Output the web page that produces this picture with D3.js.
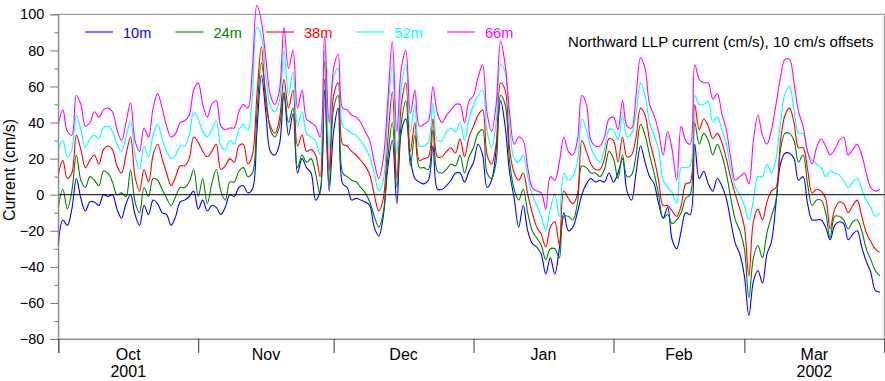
<!DOCTYPE html>
<html><head><meta charset="utf-8">
<script src="https://cdn.jsdelivr.net/npm/d3@7"></script>
<style>
body{margin:0;background:#fff}
svg{display:block;font-family:"Liberation Sans",Arial,Helvetica,sans-serif}
</style>
</head><body>
<svg id="chart" width="885" height="381"></svg>
<script>
// ---------- data ----------
const seriesNames = ["10m","24m","38m","52m","66m"];
const monthLabels = ["Oct","Nov","Dec","Jan","Feb","Mar"];
const yearLabels  = ["2001","","","","","2002"];
const monthStartDays = [0,31,61,92,123,152,183];   // day of record (from 1 Oct 2001)
const yTickValues = [-80,-60,-40,-20,0,20,40,60,80,100];
const yMinorTickValues = [-70,-50,-30,-10,10,30,50,70,90];
const annotation = "Northward LLP current (cm/s), 10 cm/s offsets";
const yTitle = "Current (cm/s)";

// daily values, one per day of record
const s10m = [
-28,-14,-17,-8,9,-2,-9,-4,-4,-6,0,-1,0,-8,-13,-5,0,-11,-17,-6,-11,-3,-5,-10,-11,-17,-12,-4,-3,-1,2,-8,-3,-9,-6,-7,-11,-7,0,-1,4,5,1,3,35,66,
45,24,22,28,56,33,45,12,20,15,12,-3,2,58,2,35,48,6,4,-3,-2,-3,-4,-6,-18,-23,-12,15,30,-5,35,42,20,9,7,6,8,27,3,3,5,8,12,12,7,13,
18,28,22,4,8,25,52,38,12,-2,-18,-6,-20,-27,-29,-33,-44,-35,-44,-30,-10,-20,-18,-10,0,6,9,7,8,7,12,7,12,20,2,-3,12,27,18,10,6,-5,-13,-7,-25,
-30,-20,-10,-11,28,9,13,6,2,9,5,-2,-15,-27,-33,-45,-67,-48,-42,-49,-33,-26,-5,17,23,23,20,8,10,-5,-14,-14,-14,-18,-25,-17,-15,-16,-25,-22,-20,-29,-37,-43,-53,-54];
const s24m = [
-7,3,-8,2,22,8,4,10,8,5,13,12,7,0,1,-1,14,-4,-10,4,-1,9,8,3,-2,-6,-1,4,4,7,14,-1,9,-5,6,14,2,-3,7,7,13,15,10,12,45,73,
55,36,32,38,57,40,48,15,22,18,20,12,0,64,5,48,55,12,10,8,7,4,1,-4,-12,-18,-10,20,40,4,40,52,16,33,15,15,14,36,13,12,14,17,16,22,12,21,
26,34,36,12,9,18,55,50,18,3,-3,3,-10,-20,-24,-28,-36,-30,-30,-35,-12,-12,-14,-5,16,15,12,12,10,14,24,20,9,22,10,11,22,39,33,22,12,0,-13,-11,-16,
-14,-10,-2,0,40,28,34,30,22,28,22,12,-2,-14,-20,-30,-57,-35,-28,-35,-21,-12,-3,25,34,34,30,18,22,6,-6,-3,-3,-10,-24,-12,-12,-14,-19,-15,-14,-20,-30,-36,-42,-45];
const s38m = [
11,19,9,12,33,25,15,19,22,17,25,27,25,16,12,22,32,10,2,14,7,22,28,20,12,5,10,16,16,20,32,29,24,21,24,28,14,16,20,18,27,28,17,22,55,82,
50,38,34,42,64,48,58,27,33,24,25,22,10,74,13,55,62,28,27,24,22,19,16,11,0,-9,-2,30,57,9,50,62,24,40,19,20,21,42,21,21,24,26,23,31,21,32,
38,44,47,22,17,28,62,58,25,12,8,12,0,-10,-18,-22,-29,-18,-15,-28,2,-2,-5,0,30,24,17,14,14,20,31,30,18,32,21,22,32,48,44,30,20,8,-6,-6,-9,
-12,-6,6,7,50,36,42,38,31,34,29,20,9,0,-8,-18,-45,-15,-8,-14,-4,2,4,30,44,48,40,26,26,14,1,3,2,-2,-19,-8,-4,-5,-10,-6,-3,-12,-21,-26,-30,-32];
const s52m = [
25,30,21,25,44,36,26,31,33,31,37,38,35,28,24,32,41,22,14,27,21,33,39,31,24,20,22,27,27,33,46,42,35,32,36,41,27,25,30,28,36,39,36,55,93,88,
65,49,46,52,80,55,68,38,46,34,32,30,22,80,25,65,70,38,36,34,33,30,26,21,12,2,8,45,72,22,60,72,35,50,27,27,29,51,30,30,35,37,35,40,30,42,
50,55,58,35,26,40,72,68,38,20,18,22,10,0,-6,-12,-20,-8,0,-12,12,8,10,18,42,36,26,21,18,25,36,36,30,44,32,34,45,62,55,40,33,25,8,4,1,
-5,15,15,16,55,50,50,52,40,43,36,28,14,4,0,-6,-14,-3,10,10,17,12,20,40,56,60,47,34,34,24,19,17,15,10,13,12,11,8,4,7,9,3,-3,-7,-12,-10];
const s66m = [
39,47,35,33,55,50,38,40,46,43,47,48,46,36,30,40,51,30,24,37,32,48,56,48,38,32,34,40,41,44,58,62,50,43,50,52,38,36,37,37,46,50,48,70,105,96,
75,55,50,58,93,70,80,48,58,42,40,38,32,88,40,70,78,48,47,44,43,40,35,30,18,9,20,52,85,35,70,80,45,58,38,39,41,60,45,40,44,47,50,50,40,52,
55,65,72,45,35,50,85,72,45,28,32,30,15,4,2,1,-8,10,8,18,32,24,22,30,55,50,30,27,27,32,42,43,36,52,38,37,55,76,70,50,44,35,22,35,25,
8,38,30,28,72,64,62,62,53,56,45,36,20,8,10,12,6,30,44,33,28,36,50,65,75,75,62,46,38,24,17,26,31,27,22,25,30,32,22,25,28,22,12,4,2,3];
const seriesValues = [s10m, s24m, s38m, s52m, s66m];

// ---------- styles / layout ----------
const colors = ["#0000ff","#008000","#ff0000","#00ffff","#ff00ff"];
const plot = {left: 58.3, right: 884.3, top: 14.3, bottom: 339};

const svg = d3.select("#chart");
const x = d3.scaleLinear().domain([monthStartDays[0], monthStartDays[monthStartDays.length-1]]).range([plot.left, plot.right]);
const y = d3.scaleLinear().domain([-80, 100]).range([plot.bottom, plot.top]);

// frame
svg.append("rect")
  .attr("x", plot.left).attr("y", plot.top)
  .attr("width", plot.right - plot.left).attr("height", plot.bottom - plot.top)
  .attr("fill", "none").attr("stroke", "#8a8a8a").attr("stroke-width", 1);

// series
const line = d3.line()
  .x((d, i) => x(i))
  .y(d => y(d))
  .curve(d3.curveCatmullRom.alpha(0.5));

seriesValues.forEach((vals, k) => {
  svg.append("path")
    .datum(vals)
    .attr("fill", "none")
    .attr("stroke", colors[k])
    .attr("stroke-width", 1.1)
    .attr("d", line);
});

// zero line
svg.append("line")
  .attr("x1", plot.left).attr("x2", plot.right)
  .attr("y1", y(0)).attr("y2", y(0))
  .attr("stroke", "#000").attr("stroke-width", 1);

// y axis major
const yAxis = svg.append("g")
  .attr("transform", `translate(${plot.left},0)`)
  .call(d3.axisLeft(y).tickValues(yTickValues).tickSize(8).tickPadding(6).tickFormat(d3.format("d")));
yAxis.select(".domain").attr("stroke", "#8a8a8a");
yAxis.selectAll(".tick line").attr("stroke", "#777");
yAxis.selectAll(".tick text").attr("font-size", "14.5px").attr("fill", "#000")
  .attr("font-family", '"Liberation Sans",Arial,sans-serif');

// y axis minor
const yMinor = svg.append("g")
  .attr("transform", `translate(${plot.left},0)`)
  .call(d3.axisLeft(y).tickValues(yMinorTickValues).tickSize(4).tickFormat(""));
yMinor.select(".domain").remove();
yMinor.selectAll(".tick line").attr("stroke", "#777");

// x axis (month boundaries)
const xAxis = svg.append("g")
  .attr("transform", `translate(0,${plot.bottom})`)
  .call(d3.axisBottom(x).tickValues(monthStartDays).tickSize(14).tickFormat(""));
xAxis.select(".domain").attr("stroke", "#8a8a8a");
xAxis.selectAll(".tick line").attr("stroke", "#333");

// month labels (centred in each month)
const mids = monthLabels.map((m, i) => (monthStartDays[i] + monthStartDays[i+1]) / 2);
svg.selectAll("text.month").data(monthLabels).join("text")
  .attr("class", "month")
  .attr("x", (d, i) => x(mids[i])).attr("y", 359.5)
  .attr("text-anchor", "middle").attr("font-size", "16px").attr("fill", "#000")
  .text(d => d);
svg.selectAll("text.year").data(yearLabels.filter(d => d !== "").map((d) => ({d, i: yearLabels.indexOf(d)}))).join("text")
  .attr("class", "year")
  .attr("x", o => x(mids[o.i])).attr("y", 377.3)
  .attr("text-anchor", "middle").attr("font-size", "16px").attr("fill", "#000")
  .text(o => o.d);

// y title
svg.append("text")
  .attr("transform", `translate(15,170) rotate(-90)`)
  .attr("text-anchor", "middle").attr("font-size", "16px").attr("fill", "#000")
  .text(yTitle);

// legend
const legendX0 = 85, legendStep = 90.5, legendY = 32;
seriesNames.forEach((name, k) => {
  const lx = legendX0 + k * legendStep;
  svg.append("line")
    .attr("x1", lx).attr("x2", lx + 28)
    .attr("y1", legendY).attr("y2", legendY)
    .attr("stroke", colors[k]).attr("stroke-width", 1.1);
  svg.append("text")
    .attr("x", lx + 38).attr("y", legendY + 5.5)
    .attr("font-size", "14.5px").attr("fill", colors[k])
    .text(name);
});

// annotation
svg.append("text")
  .attr("x", 873.5).attr("y", 47.3)
  .attr("text-anchor", "end").attr("font-size", "15px").attr("fill", "#000")
  .text(annotation);
</script>
</body></html>
